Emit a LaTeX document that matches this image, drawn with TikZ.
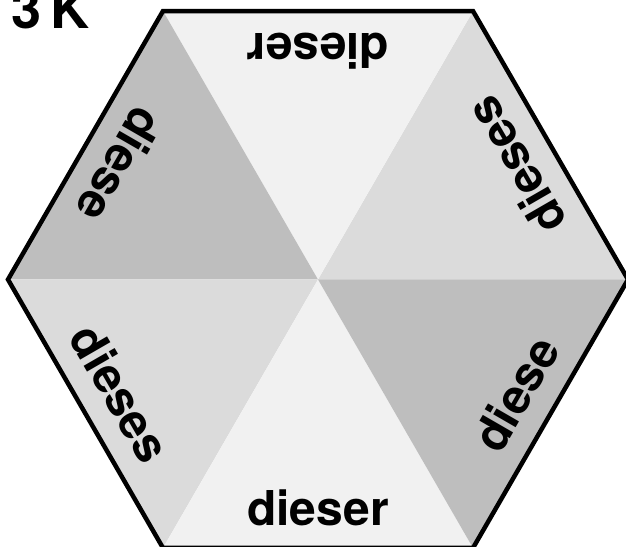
\documentclass[tikz,border=0pt]{standalone}
\usepackage{fontspec}
\setmainfont{TeX Gyre Heros}
\usetikzlibrary{calc}
\definecolor{darkwedge}{gray}{0.745}
\definecolor{midwedge}{gray}{0.858}
\definecolor{lightwedge}{gray}{0.945}

\begin{document}
\begin{tikzpicture}[x=1pt, y=1pt,
  word/.style={font=\fontsize{48}{52}\selectfont\bfseries, inner sep=0pt},
  rim/.style={line width=4.5pt, line join=miter}]
  \useasboundingbox (0,0) rectangle (626,546);
  \coordinate (c) at (318,266.5);
  \foreach \a [count=\i from 0] in {0,60,...,300}
    \coordinate (v\i) at ($(c)+(\a:310)$);
  % six wedges
  \foreach \i/\j/\col in {0/1/midwedge,1/2/lightwedge,2/3/darkwedge,
                          3/4/midwedge,4/5/lightwedge,5/0/darkwedge}
    \fill[\col] (c) -- (v\i) -- (v\j) -- cycle;
  \draw[rim] (v0) -- (v1) -- (v2) -- (v3) -- (v4) -- (v5) -- cycle;
  % words, tops towards the middle
  \foreach \a/\w [count=\k] in {-90/dieser,-30/diese,30/dieses,
                                90/dieser,150/diese,210/dieses}
    \node[word, rotate=\a+90] (word\k) at ($(c)+(\a:228)$) {\w};
  \node[anchor=base west, font=\fontsize{54}{58}\selectfont\bfseries]
    (title) at (8,517) {3\,K};
\end{tikzpicture}
\end{document}
